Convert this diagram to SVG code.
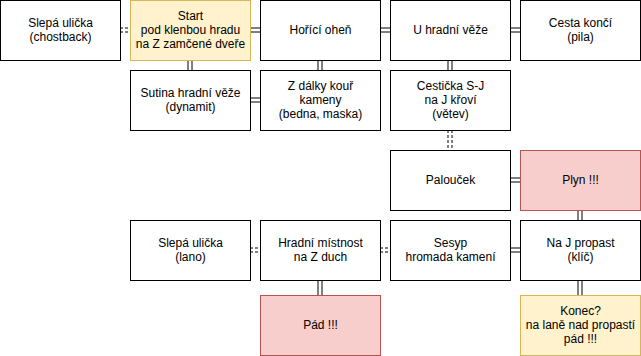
<svg xmlns="http://www.w3.org/2000/svg" width="641" height="356" viewBox="0 0 641 356">
<style>
.n rect{fill:#fff;stroke:#000;stroke-width:1}
.y rect{fill:#fff2cc;stroke:#d6b656}
.r rect{fill:#f8cecc;stroke:#b85450}
text{font-family:"Liberation Sans",Arial,sans-serif;font-size:12px;fill:#000;text-anchor:middle}
.o{stroke:#000;stroke-width:5;fill:none}
.i{stroke:#fff;stroke-width:3;fill:none}
.d{stroke:#000;stroke-width:1;stroke-dasharray:3 2;fill:none}
</style>
<rect x="0" y="0" width="641" height="356" fill="#fff"/>
<g id="connectors">
<!-- solid double links -->
<path class="o" d="M250,30H260M190,60V70M250,100H260M320,60V70M380,30H390M510,30H520M450,60V70M510,180H520M580,210V220M510,250H520M320,280V295M580,280V295"/>
<path class="i" d="M249,30H261M190,59V71M249,100H261M320,59V71M379,30H391M509,30H521M450,59V71M509,180H521M580,209V221M509,250H521M320,279V296M580,279V296"/>
<!-- dashed double links -->
<path class="d" d="M120,28H130M120,32H130M448,130V150M452,130V150M250,248H260M250,252H260M380,248H390M380,252H390"/>
</g>
<g id="n1" class="n"><rect x="0.5" y="0.5" width="120" height="60"/><text x="60.5" y="27">Slepá ulička</text><text x="60.5" y="41">(chostback)</text></g>
<g id="n2" class="y"><rect x="130.5" y="0.5" width="120" height="60"/><text x="190.5" y="20">Start</text><text x="190.5" y="34">pod klenbou hradu</text><text x="190.5" y="48">na Z zamčené dveře</text></g>
<g id="n3" class="n"><rect x="260.5" y="0.5" width="120" height="60"/><text x="320.5" y="34">Hořící oheň</text></g>
<g id="n4" class="n"><rect x="390.5" y="0.5" width="120" height="60"/><text x="450.5" y="34">U hradní věže</text></g>
<g id="n5" class="n"><rect x="520.5" y="0.5" width="120" height="60"/><text x="580.5" y="27">Cesta končí</text><text x="580.5" y="41">(pila)</text></g>
<g id="n6" class="n"><rect x="130.5" y="70.5" width="120" height="60"/><text x="190.5" y="97">Sutina hradní věže</text><text x="190.5" y="111">(dynamit)</text></g>
<g id="n7" class="n"><rect x="260.5" y="70.5" width="120" height="60"/><text x="320.5" y="90">Z dálky kouř</text><text x="320.5" y="104">kameny</text><text x="320.5" y="118">(bedna, maska)</text></g>
<g id="n8" class="n"><rect x="390.5" y="70.5" width="120" height="60"/><text x="450.5" y="90">Cestička S-J</text><text x="450.5" y="104">na J křoví</text><text x="450.5" y="118">(větev)</text></g>
<g id="n9" class="n"><rect x="390.5" y="150.5" width="120" height="60"/><text x="450.5" y="184">Palouček</text></g>
<g id="n10" class="r"><rect x="520.5" y="150.5" width="120" height="60"/><text x="580.5" y="184">Plyn !!!</text></g>
<g id="n11" class="n"><rect x="130.5" y="220.5" width="120" height="60"/><text x="190.5" y="247">Slepá ulička</text><text x="190.5" y="261">(lano)</text></g>
<g id="n12" class="n"><rect x="260.5" y="220.5" width="120" height="60"/><text x="320.5" y="247">Hradní místnost</text><text x="320.5" y="261">na Z duch</text></g>
<g id="n13" class="n"><rect x="390.5" y="220.5" width="120" height="60"/><text x="450.5" y="247">Sesyp</text><text x="450.5" y="261">hromada kamení</text></g>
<g id="n14" class="n"><rect x="520.5" y="220.5" width="120" height="60"/><text x="580.5" y="247">Na J propast</text><text x="580.5" y="261">(klíč)</text></g>
<g id="n15" class="r"><rect x="260.5" y="295.5" width="120" height="60"/><text x="320.5" y="329">Pád !!!</text></g>
<g id="n16" class="y"><rect x="520.5" y="295.5" width="120" height="60"/><text x="580.5" y="315">Konec?</text><text x="580.5" y="329">na laně nad propastí</text><text x="580.5" y="343">pád !!!</text></g>
</svg>
